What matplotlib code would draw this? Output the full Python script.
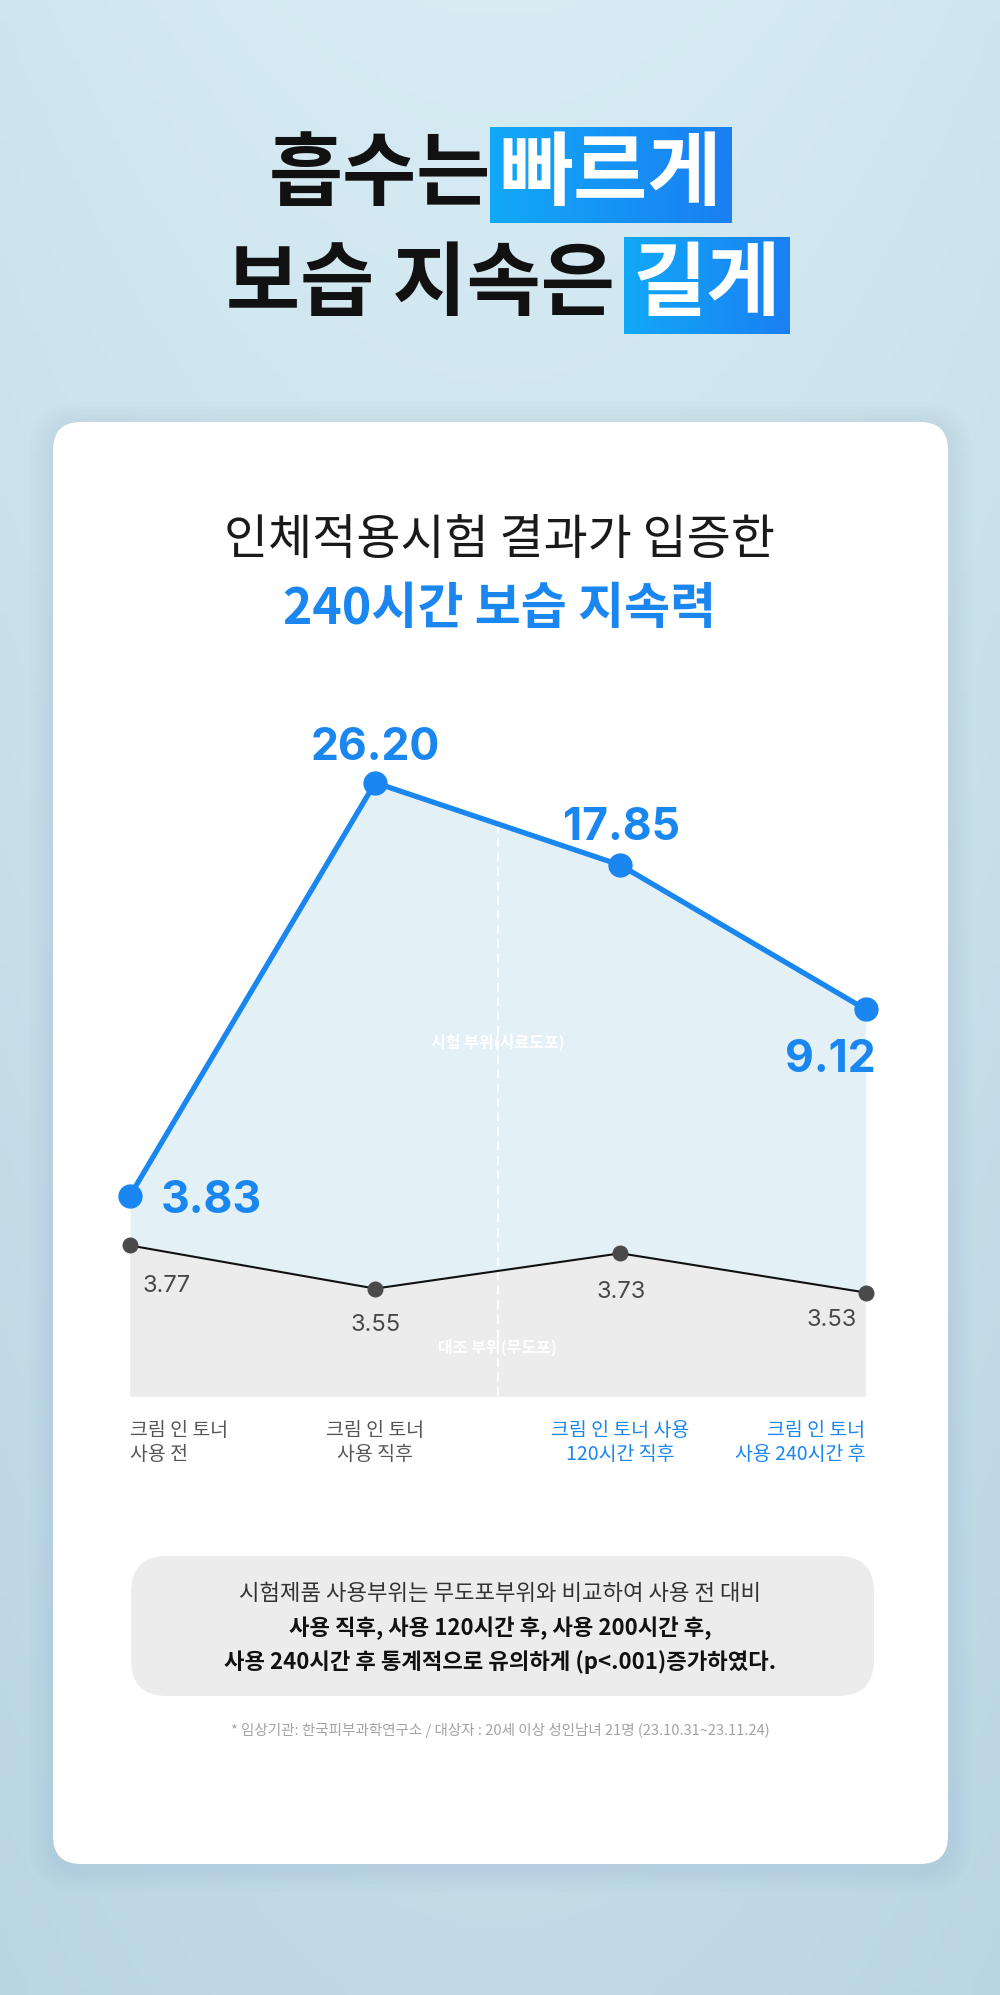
import numpy as np
import matplotlib.pyplot as plt
from matplotlib.patches import FancyBboxPatch
from matplotlib.transforms import blended_transform_factory

plt.rcParams['font.family'] = ['Noto Sans CJK KR', 'DejaVu Sans']
NUM_FONT = ['Inter', 'Noto Sans CJK KR', 'DejaVu Sans']

# 데이터
stages = ['크림 인 토너\n사용 전', '크림 인 토너\n사용 직후',
          '크림 인 토너 사용\n120시간 직후', '크림 인 토너\n사용 240시간 후']
treated = [3.83, 26.20, 17.85, 9.12]   # 시험 부위(시료도포)
control = [3.77, 3.55, 3.73, 3.53]     # 대조 부위(무도포)
x = np.arange(len(stages))

BLUE = '#1a86f0'
W, H = 1000, 1995

fig = plt.figure(figsize=(W / 100, H / 100), dpi=100)

# 배경 (픽셀 좌표)
bg = fig.add_axes([0, 0, 1, 1], zorder=0)
yy, xx = np.mgrid[0:1:300j, 0:1:150j]
c_top = np.array([0.840, 0.922, 0.952])
c_bot = np.array([0.725, 0.835, 0.882])
t = np.clip(0.75 * yy + 0.9 * (xx - 0.5) ** 2, 0, 1)[..., None]
bg.imshow(c_top * (1 - t) + c_bot * t, extent=[0, W, H, 0], aspect='auto')

# 카드 그림자 + 카드
for k in range(6):
    grow = 4 + k * 4
    bg.add_patch(FancyBboxPatch((53 - grow, 426 - grow), 895 + 2 * grow, 1442 + 2 * grow,
                                boxstyle=f'round,pad=0,rounding_size={28 + grow}',
                                fc='#6f9db3', ec='none', alpha=0.018))
bg.add_patch(FancyBboxPatch((53, 422), 895, 1442, boxstyle='round,pad=0,rounding_size=28',
                            fc='white', ec='none'))

# 제목 하이라이트 박스
grad = np.linspace(0, 1, 60)[None, :, None]
g1 = np.array([0.07, 0.66, 0.97])
g2 = np.array([0.10, 0.50, 0.95])
hl = g1 * (1 - grad) + g2 * grad
bg.imshow(hl, extent=[490, 732, 223, 127], aspect='auto')
bg.imshow(hl, extent=[624, 790, 334, 237], aspect='auto')
bg.set_xlim(0, W)
bg.set_ylim(H, 0)
bg.axis('off')

TSIZE = 58
bg.text(491, 176, '흡수는', ha='right', va='center', fontsize=TSIZE, weight='heavy', color='#111')
bg.text(611, 176, '빠르게', ha='center', va='center', fontsize=TSIZE, weight='heavy', color='white')
bg.text(615, 286, '보습 지속은', ha='right', va='center', fontsize=TSIZE, weight='heavy', color='#111')
bg.text(707, 286, '길게', ha='center', va='center', fontsize=TSIZE, weight='heavy', color='white')

bg.text(500, 540, '인체적용시험 결과가 입증한', ha='center', va='center', fontsize=34.5, color='#1a1a1a')
bg.text(500, 609, '240시간 보습 지속력', ha='center', va='center', fontsize=36,
        weight='bold', color=BLUE)

# 하단 설명 박스
bg.add_patch(FancyBboxPatch((131, 1556), 743, 140, boxstyle='round,pad=0,rounding_size=36',
                            fc='#ececec', ec='none'))
bg.text(500, 1594, '시험제품 사용부위는 무도포부위와 비교하여 사용 전 대비',
        ha='center', va='center', fontsize=16, color='#333')
bg.text(500, 1628, '사용 직후, 사용 120시간 후, 사용 200시간 후,',
        ha='center', va='center', fontsize=16, weight='bold', color='#111')
bg.text(500, 1662, '사용 240시간 후 통계적으로 유의하게 (p<.001)증가하였다.',
        ha='center', va='center', fontsize=16, weight='bold', color='#111')
bg.text(500, 1731, '* 임상기관: 한국피부과학연구소 / 대상자 : 20세 이상 성인남녀 21명 (23.10.31~23.11.24)',
        ha='center', va='center', fontsize=10.5, color='#a3a3a3')

# 차트 영역
rect = [130 / W, (H - 1396) / H, 735.6 / W, 696 / H]
T_LIM = (1.508, 38.5)
C_LIM = (3.002, 6.553)

ax_b = fig.add_axes(rect, zorder=1)
ax_b.set_facecolor('none')
ax_b.set_yscale('log')
ax_b.set_ylim(*T_LIM)
ax_b.set_xlim(0, 3)
ax_b.fill_between(x, treated, T_LIM[0], color='#e3f0f6', lw=0)
for s in ax_b.spines.values():
    s.set_visible(False)
ax_b.set_yticks([])
ax_b.minorticks_off()
ax_b.set_xticks(x, stages)
ax_b.tick_params(axis='x', length=0, pad=17, labelsize=14)
aligns = ['left', 'center', 'center', 'right']
colors = ['#555555', '#555555', BLUE, BLUE]
for lab, ha, col in zip(ax_b.get_xticklabels(), aligns, colors):
    lab.set_horizontalalignment(ha)
    lab.set_multialignment(ha)
    lab.set_color(col)
    lab.set_linespacing(1.2)

# 대조 부위
ax_g = fig.add_axes(rect, zorder=2)
ax_g.set_ylim(*C_LIM)
ax_g.set_xlim(0, 3)
ax_g.fill_between(x, control, C_LIM[0], color='#ececec', lw=0)
ax_g.axvline(1.5, color='white', lw=1.3, ls=(0, (5, 3)), zorder=2)
ax_g.plot(x, control, color='#111', lw=1.5, zorder=3, clip_on=False)
ax_g.plot(x, control, 'o', color='#4a4a4a', ms=10.5, zorder=4, clip_on=False)
c_off = [(37, -47, 'center'), (0, -42, 'center'), (1, -45, 'center'), (-34, -33, 'center')]
for i, v in enumerate(control):
    dx, dy, ha = c_off[i]
    ax_g.annotate(f'{v:.2f}', xy=(i, v), xytext=(dx, dy), textcoords='offset pixels',
                  ha=ha, va='baseline', fontsize=17, color='#484848',
                  family=NUM_FONT, annotation_clip=False)
tr = blended_transform_factory(ax_g.transData, ax_g.transAxes)
ax_g.text(1.5, 0.5086, '시험 부위(시료도포)', transform=tr, ha='center', va='center',
          fontsize=11.5, weight='bold', color='white')
ax_g.text(1.5, 0.0704, '대조 부위(무도포)', transform=tr, ha='center', va='center',
          fontsize=11.5, weight='bold', color='white')
ax_g.axis('off')

# 시험 부위
ax_t = fig.add_axes(rect, zorder=3)
ax_t.set_facecolor('none')
ax_t.set_yscale('log')
ax_t.set_ylim(*T_LIM)
ax_t.set_xlim(0, 3)
ax_t.plot(x, treated, color=BLUE, lw=3.8, marker='o', ms=16.5, clip_on=False)
t_off = [(31, -17, 'left'), (0, 23, 'center'), (1, 25, 'center'), (10, -63, 'right')]
for i, v in enumerate(treated):
    dx, dy, ha = t_off[i]
    ax_t.annotate(f'{v:.2f}', xy=(i, v), xytext=(dx, dy), textcoords='offset pixels',
                  ha=ha, va='baseline', fontsize=32, weight='bold', color=BLUE,
                  family=NUM_FONT, annotation_clip=False)
ax_t.axis('off')

fig.savefig('out.png', dpi=100)
